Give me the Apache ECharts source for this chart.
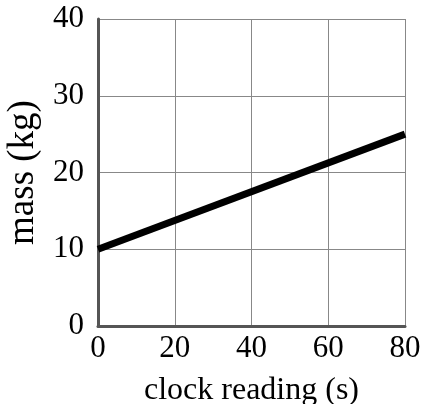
<!DOCTYPE html>
<html><head><meta charset="utf-8">
<script src="https://cdn.jsdelivr.net/npm/echarts@6/dist/echarts.min.js"></script>
<style>html,body{margin:0;padding:0;background:#fff}#c{width:424px;height:404px}</style>
</head><body><div id="c"></div>
<script>
const clockReading = [0, 80];
const mass = [10, 25];
const xTicks = [0, 20, 40, 60, 80];
const yTicks = [0, 10, 20, 30, 40];
const xTitle = 'clock reading (s)';
const yTitle = 'mass (kg)';

const font = '"Liberation Serif", "Times New Roman", serif';
const chart = echarts.init(document.getElementById('c'), null, {renderer: 'canvas'});
chart.setOption({
  animation: false,
  backgroundColor: '#fff',
  grid: {left: 98, right: 19, top: 19, bottom: 78, containLabel: false, outerBoundsMode: 'none'},
  xAxis: {
    type: 'value', min: xTicks[0], max: xTicks[xTicks.length - 1], interval: 20,
    name: xTitle, nameLocation: 'middle', nameGap: 49,
    nameTextStyle: {fontFamily: font, fontSize: 32, color: '#000'},
    axisLine: {show: true, onZero: false, lineStyle: {color: '#555', width: 3}},
    axisTick: {show: false},
    axisLabel: {fontFamily: font, fontSize: 31, color: '#000', margin: 7},
    splitLine: {show: true, lineStyle: {color: '#888', width: 1}}
  },
  yAxis: {
    type: 'value', min: yTicks[0], max: yTicks[yTicks.length - 1], interval: 10,
    name: yTitle, nameLocation: 'middle', nameGap: 55, nameRotate: 90,
    nameTextStyle: {fontFamily: font, fontSize: 37, color: '#000'},
    axisLine: {show: true, onZero: false, lineStyle: {color: '#555', width: 3}},
    axisTick: {show: false},
    axisLabel: {fontFamily: font, fontSize: 31, color: '#000', margin: 14},
    splitLine: {show: true, lineStyle: {color: '#888', width: 1}}
  },
  series: [{
    type: 'line',
    data: clockReading.map((x, i) => [x, mass[i]]),
    showSymbol: false,
    lineStyle: {color: '#000', width: 7},
    silent: true
  }]
});
</script></body></html>
